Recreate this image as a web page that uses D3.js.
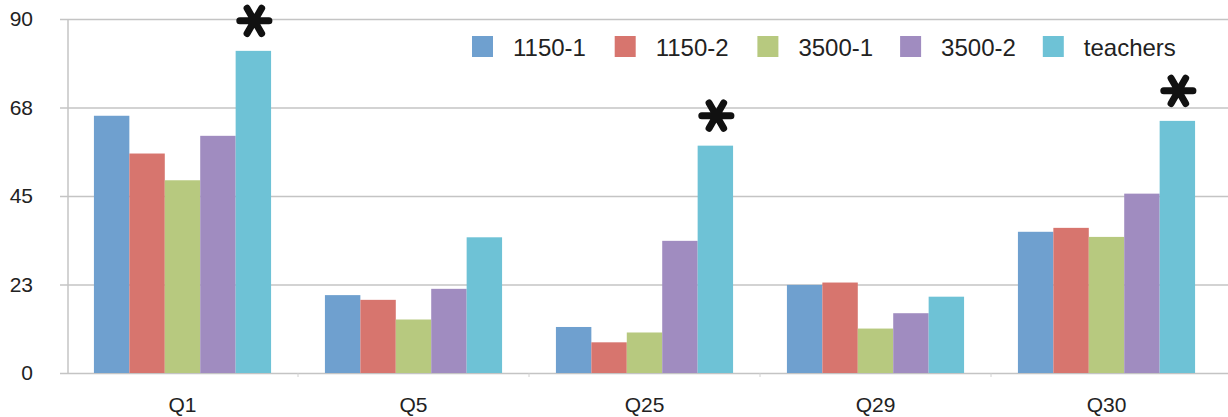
<!DOCTYPE html>
<html>
<head>
<meta charset="utf-8">
<script src="https://cdn.jsdelivr.net/npm/d3@7"></script>
<style>
    html, body { margin: 0; padding: 0; background: #fff; }
    svg { display: block; font-family: "Liberation Sans", Arial, Helvetica, sans-serif; }
    .axis path { display: none; }
    .axisY line { stroke: #c4c4c4; stroke-width: 1.5; }
    .axis text { fill: #222; font-size: 21px; }
</style>
</head>
<body>
<div id="chart"></div>
<script>
const categories = ['Q1', 'Q5', 'Q25', 'Q29', 'Q30'];
const seriesNames = ['1150-1', '1150-2', '3500-1', '3500-2', 'teachers'];
const values1150_1 = [65.4, 19.8, 11.7, 22.4, 35.9];
const values1150_2 = [55.8, 18.6, 7.8, 23.0, 36.9];
const values3500_1 = [49.0, 13.6, 10.3, 11.3, 34.6];
const values3500_2 = [60.3, 21.4, 33.6, 15.2, 45.6];
const valuesTeachers = [81.9, 34.5, 57.8, 19.4, 64.1];
const yTicks = [0, 22.5, 45, 67.5, 90];
const starred = ['Q1', 'Q25', 'Q30'];

const colors = ['#6fa0cf', '#d7756e', '#b7c97f', '#a08cc0', '#6ec2d6'];
const seriesValues = [values1150_1, values1150_2, values3500_1, values3500_2, valuesTeachers];

const width = 1228;
const height = 417;
const margin = { top: 19, right: 6, bottom: 44, left: 67 };

const svg = d3.select('#chart').append('svg')
    .attr('width', width)
    .attr('height', height);

const x0 = d3.scaleBand()
    .domain(categories)
    .range([margin.left, width - margin.right]);

const x1 = d3.scaleBand()
    .domain(seriesNames)
    .range([0, x0.bandwidth()])
    .paddingOuter(0.76);

const y = d3.scaleLinear()
    .domain([0, 90])
    .range([height - margin.bottom, margin.top]);

// y axis with gridlines across the whole width
const gridLeft = margin.left - 7;
const axisY = d3.axisLeft(y)
    .tickValues(yTicks)
    .tickFormat(d3.format('.0f'))
    .tickSize(-(width - gridLeft))
    .tickPadding(27);

svg.append('g')
    .classed('axis axisY', true)
    .attr('transform', `translate(${gridLeft}, 0)`)
    .call(axisY);

// vertical axis line
svg.append('line')
    .attr('x1', margin.left + 1).attr('x2', margin.left + 1)
    .attr('y1', y(90)).attr('y2', y(0))
    .attr('stroke', '#c4c4c4')
    .attr('stroke-width', 1.5);

// x axis: labels at category centres, small ticks between groups
const axisX = d3.axisBottom(x0)
    .tickSize(0)
    .tickPadding(24);

const axisXGroup = svg.append('g')
    .classed('axis axisX', true)
    .attr('transform', `translate(0, ${y(0)})`)
    .call(axisX);

axisXGroup.selectAll('.tick text').attr('dy', '0.71em');

svg.append('g')
    .selectAll('line')
    .data(categories.slice(1))
    .join('line')
    .attr('x1', d => x0(d)).attr('x2', d => x0(d))
    .attr('y1', y(0)).attr('y2', y(0) + 4)
    .attr('stroke', '#d0d0d0')
    .attr('stroke-width', 1);

// bars
const groups = svg.append('g')
    .selectAll('g')
    .data(categories)
    .join('g')
    .attr('transform', d => `translate(${x0(d)}, 0)`);

groups.selectAll('rect')
    .data((c, ci) => seriesNames.map((s, si) => ({ series: s, si, value: seriesValues[si][ci] })))
    .join('rect')
    .attr('x', d => x1(d.series))
    .attr('y', d => y(d.value))
    .attr('width', x1.bandwidth())
    .attr('height', d => y(0) - y(d.value))
    .attr('fill', d => colors[d.si]);

// asterisks above the teachers bars
const star = d3.symbol().type(d3.symbolAsterisk).size(600);

svg.append('g')
    .selectAll('path')
    .data(starred)
    .join('path')
    .attr('d', star)
    .attr('transform', c => {
        const cx = x0(c) + x1('teachers') + x1.bandwidth() / 2 + 1;
        const cy = y(valuesTeachers[categories.indexOf(c)]) - 30;
        return `translate(${cx}, ${cy}) rotate(90)`;
    })
    .attr('fill', 'none')
    .attr('stroke', '#111')
    .attr('stroke-width', 7)
    .attr('stroke-linecap', 'round');

// legend
const legend = svg.append('g')
    .selectAll('g')
    .data(seriesNames)
    .join('g')
    .attr('transform', (d, i) => `translate(${472 + i * 142.7}, 36)`);

legend.append('rect')
    .attr('width', 21)
    .attr('height', 21)
    .attr('fill', (d, i) => colors[i]);

legend.append('text')
    .attr('x', 41)
    .attr('y', 20)
    .attr('fill', '#222')
    .style('font-size', '24px')
    .text(d => d);
</script>
</body>
</html>
